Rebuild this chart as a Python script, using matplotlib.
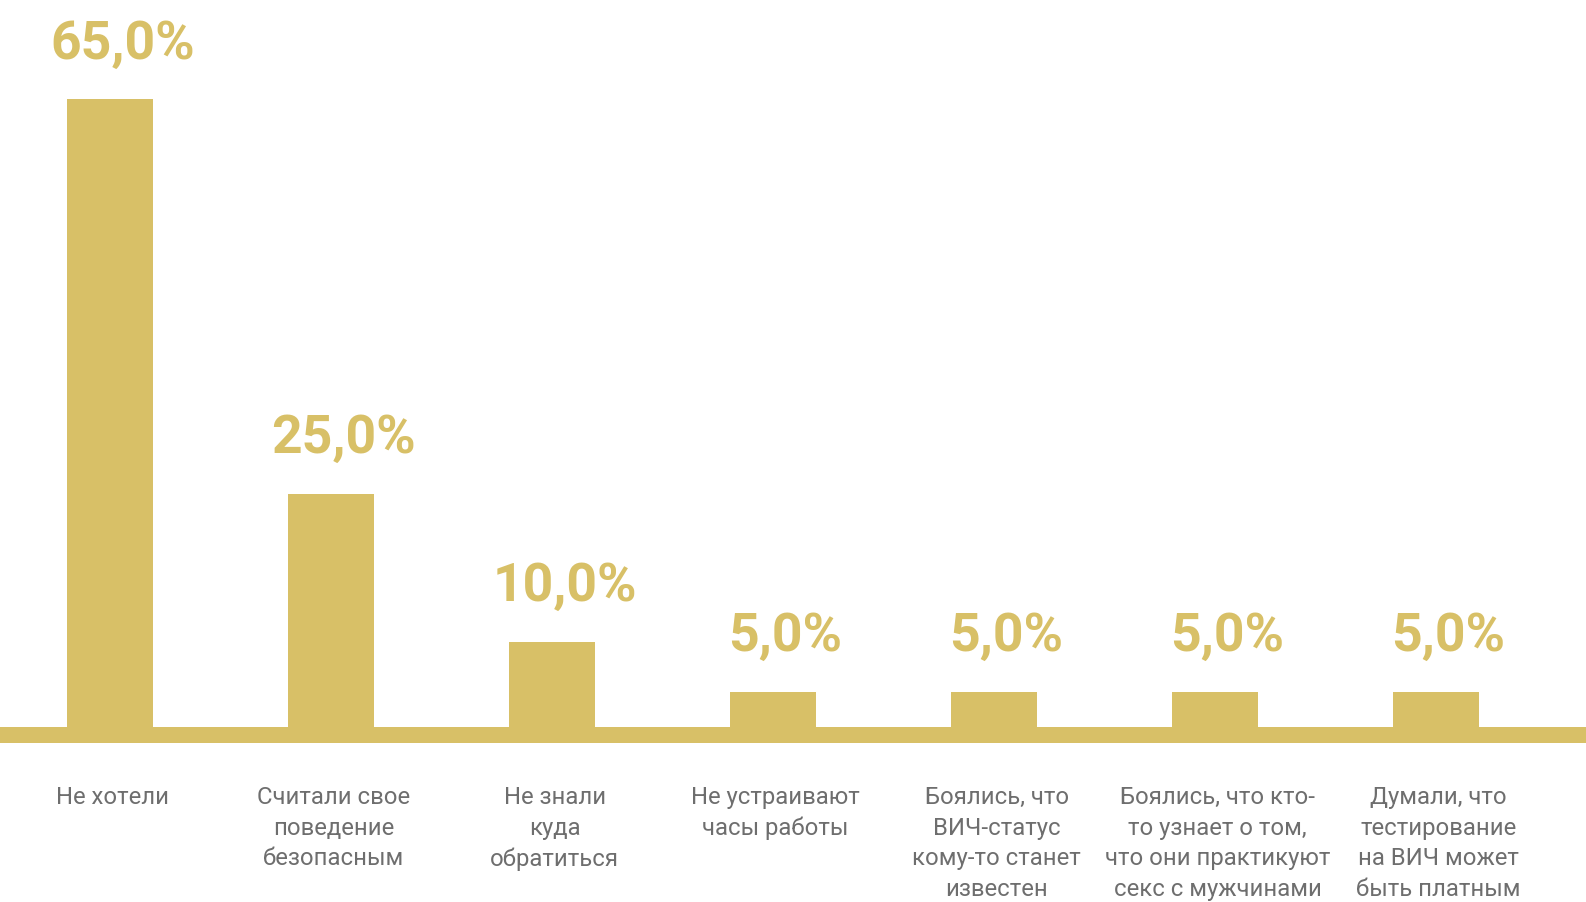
import matplotlib
matplotlib.use("Agg")
import matplotlib.pyplot as plt

# Reasons for not getting tested (share of respondents)
categories = [
    "Не хотели",
    "Считали свое\nповедение\nбезопасным",
    "Не знали\nкуда\nобратиться",
    "Не устраивают\nчасы работы",
    "Боялись, что\nВИЧ-статус\nкому-то станет\nизвестен",
    "Боялись, что кто-\nто узнает о том,\nчто они практикуют\nсекс с мужчинами",
    "Думали, что\nтестирование\nна ВИЧ может\nбыть платным",
]
values = [65.0, 25.0, 10.0, 5.0, 5.0, 5.0, 5.0]
value_labels = ["65,0%", "25,0%", "10,0%", "5,0%", "5,0%", "5,0%", "5,0%"]

GOLD = "#D8C067"
GREY = "#6E6E6E"

plt.rcParams["font.family"] = ["Roboto", "DejaVu Sans"]

fig = plt.figure(figsize=(15.86, 9.02), dpi=100)
ax = fig.add_axes([0, 0, 1, 1])
ax.set_axis_off()

x = list(range(len(categories)))
ax.set_xlim(-0.498, 6.679)
ax.set_ylim(-16.31, 75.08)

# thick baseline band across the whole width
ax.axhspan(-0.2, 1.42, color=GOLD, lw=0, zorder=1)

ax.bar(x, values, width=0.389, color=GOLD, zorder=2)

for xi, v, lab in zip(x, values, value_labels):
    ax.annotate(lab, (xi, v), xytext=(9, 29.5), textcoords="offset points",
                ha="center", va="baseline", fontsize=38.5, fontweight="bold",
                color=GOLD)

tr = ax.get_xaxis_transform()
for xi, cat in zip(x, categories):
    ax.text(xi + 0.012, (902 - 786) / 902, cat, transform=tr, ha="center",
            va="top", fontsize=17.2, color=GREY, linespacing=1.42,
            multialignment="center")

fig.savefig("out.png", dpi=100, facecolor="white")
